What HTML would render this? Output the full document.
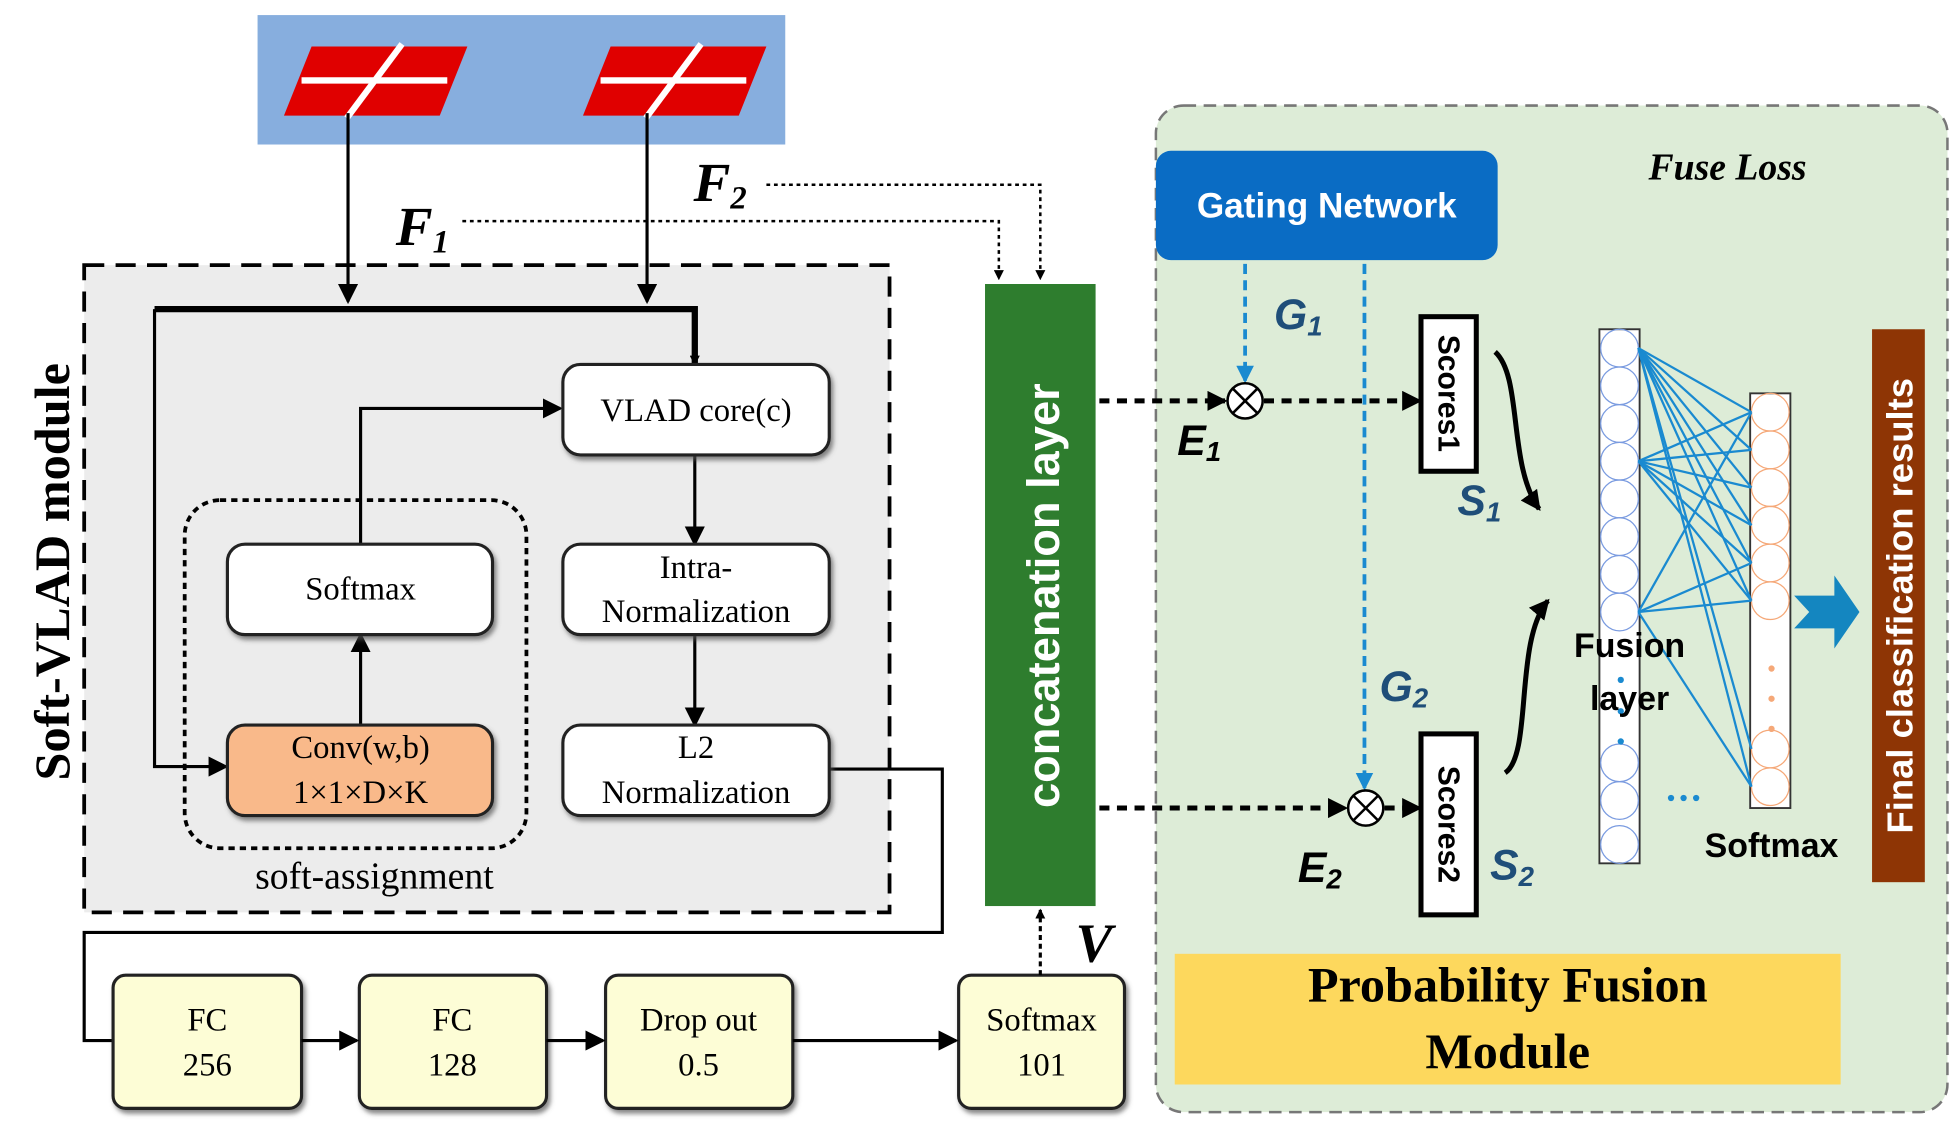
<!DOCTYPE html>
<html><head><meta charset="utf-8"><style>html,body{margin:0;padding:0;background:#fff}svg{display:block}</style></head>
<body>
<svg width="1960" height="1131" viewBox="0 0 1560 900" preserveAspectRatio="none" xmlns="http://www.w3.org/2000/svg">
<defs>
<marker id="ah" markerWidth="8" markerHeight="8" refX="7" refY="4" orient="auto" markerUnits="userSpaceOnUse" viewBox="0 0 8 8"><path d="M0,0 L8,4 L0,8 z" fill="#000"/></marker>
<marker id="ahb" markerWidth="16" markerHeight="16" refX="14" refY="8" orient="auto" markerUnits="userSpaceOnUse"><path d="M0,0 L16,8 L0,16 z" fill="#000"/></marker>
<marker id="ahl" markerWidth="14" markerHeight="14" refX="12" refY="7" orient="auto" markerUnits="userSpaceOnUse"><path d="M0,0 L14,7 L0,14 z" fill="#1a8ad0"/></marker>
<filter id="sh" x="-10%" y="-10%" width="130%" height="140%"><feDropShadow dx="2" dy="3" stdDeviation="2" flood-color="#555" flood-opacity="0.7"/></filter>
</defs>
<style>
.sr{font-family:"Liberation Serif",serif}
.ss{font-family:"Liberation Sans",sans-serif}
</style>
<!-- top image -->
<rect x="205" y="12" width="420" height="103" fill="#87aede"/>
<g>
<polygon points="248,37 372,37 350,92 226,92" fill="#e00000"/>
<line x1="240" y1="64" x2="356" y2="64" stroke="#fff" stroke-width="5"/>
<line x1="320" y1="35" x2="276" y2="94" stroke="#fff" stroke-width="5"/>
<polygon points="486,37 610,37 588,92 464,92" fill="#e00000"/>
<line x1="478" y1="64" x2="594" y2="64" stroke="#fff" stroke-width="5"/>
<line x1="558" y1="35" x2="514" y2="94" stroke="#fff" stroke-width="5"/>
</g>
<!-- soft vlad box -->
<rect x="67" y="211" width="641" height="515" fill="#ececec" stroke="#000" stroke-width="3" stroke-dasharray="16,9"/>
<line x1="277" y1="90" x2="277" y2="240" stroke="#000" stroke-width="2.5" marker-end="url(#ahb)"/>
<line x1="515" y1="90" x2="515" y2="240" stroke="#000" stroke-width="2.5" marker-end="url(#ahb)"/>
<text x="315" y="195" class="sr" font-size="44" font-weight="bold" font-style="italic">F<tspan font-size="26" dy="6">1</tspan></text>
<text x="552" y="160" class="sr" font-size="44" font-weight="bold" font-style="italic">F<tspan font-size="26" dy="6">2</tspan></text>
<polyline points="368,176 795,176 795,222" fill="none" stroke="#000" stroke-width="2" stroke-dasharray="3,3" marker-end="url(#ah)"/>
<polyline points="610,147 828,147 828,222" fill="none" stroke="#000" stroke-width="2" stroke-dasharray="3,3" marker-end="url(#ah)"/>
<text transform="translate(55,455) rotate(-90)" text-anchor="middle" class="sr" font-size="40" font-weight="bold">Soft-VLAD module</text>
<rect x="147" y="398" width="272" height="277" rx="28" fill="none" stroke="#000" stroke-width="3" stroke-dasharray="5,4"/>
<text x="298" y="707" text-anchor="middle" class="sr" font-size="30">soft-assignment</text>
<polyline points="123,246 553,246 553,290" fill="none" stroke="#000" stroke-width="5" marker-end="url(#ah)"/>
<polyline points="123,246 123,610 180,610" fill="none" stroke="#000" stroke-width="2.5" marker-end="url(#ahb)"/>
<polyline points="287,433 287,325 446,325" fill="none" stroke="#000" stroke-width="2.5" marker-end="url(#ahb)"/>
<line x1="287" y1="577" x2="287" y2="505" stroke="#000" stroke-width="2.5" marker-end="url(#ahb)"/>
<line x1="553" y1="362" x2="553" y2="433" stroke="#000" stroke-width="2.5" marker-end="url(#ahb)"/>
<line x1="553" y1="505" x2="553" y2="577" stroke="#000" stroke-width="2.5" marker-end="url(#ahb)"/>
<polyline points="660,612 750,612 750,742 67,742 67,828 90,828" fill="none" stroke="#000" stroke-width="2.5"/>
<g filter="url(#sh)" stroke="#222" stroke-width="2.5">
<rect x="448" y="290" width="212" height="72" rx="14" fill="#fff"/>
<rect x="181" y="433" width="211" height="72" rx="14" fill="#fff"/>
<rect x="448" y="433" width="212" height="72" rx="14" fill="#fff"/>
<rect x="181" y="577" width="211" height="72" rx="14" fill="#f9b98a"/>
<rect x="448" y="577" width="212" height="72" rx="14" fill="#fff"/>
<rect x="90" y="776" width="150" height="106" rx="10" fill="#fdfdd6"/>
<rect x="286" y="776" width="149" height="106" rx="10" fill="#fdfdd6"/>
<rect x="482" y="776" width="149" height="106" rx="10" fill="#fdfdd6"/>
<rect x="763" y="776" width="132" height="106" rx="10" fill="#fdfdd6"/>
</g>
<g class="sr" font-size="26" text-anchor="middle">
<text x="554" y="335">VLAD core(c)</text>
<text x="287" y="477">Softmax</text>
<text x="554" y="460">Intra-</text>
<text x="554" y="495">Normalization</text>
<text x="287" y="603">Conv(w,b)</text>
<text x="287" y="639">1×1×D×K</text>
<text x="554" y="603">L2</text>
<text x="554" y="639">Normalization</text>
<text x="165" y="820">FC</text><text x="165" y="856">256</text>
<text x="360" y="820">FC</text><text x="360" y="856">128</text>
<text x="556" y="820">Drop out</text><text x="556" y="856">0.5</text>
<text x="829" y="820">Softmax</text><text x="829" y="856">101</text>
</g>
<line x1="240" y1="828" x2="284" y2="828" stroke="#000" stroke-width="2.5" marker-end="url(#ahb)"/>
<line x1="435" y1="828" x2="480" y2="828" stroke="#000" stroke-width="2.5" marker-end="url(#ahb)"/>
<line x1="631" y1="828" x2="761" y2="828" stroke="#000" stroke-width="2.5" marker-end="url(#ahb)"/>
<line x1="828" y1="776" x2="828" y2="724" stroke="#000" stroke-width="2.5" stroke-dasharray="4,3" marker-end="url(#ah)"/>
<text x="856" y="765" class="sr" font-size="44" font-weight="bold" font-style="italic">V</text>
<!-- concat -->
<rect x="784" y="226" width="88" height="495" fill="#2e7d2e"/>
<text transform="translate(843,474) rotate(-90)" text-anchor="middle" class="ss" font-size="36" font-weight="bold" fill="#fff">concatenation layer</text>
<!-- right panel -->
<rect x="920" y="84" width="630" height="801" rx="22" fill="#ddecd7" stroke="#777" stroke-width="2" stroke-dasharray="10,6"/>
<rect x="920" y="120" width="272" height="87" rx="12" fill="#0a6cc4"/>
<text x="1056" y="173" text-anchor="middle" class="ss" font-size="28" font-weight="bold" fill="#fff">Gating Network</text>
<text x="1375" y="143" text-anchor="middle" class="sr" font-size="30" font-weight="bold" font-style="italic">Fuse Loss</text>
<line x1="991" y1="210" x2="991" y2="303" stroke="#1a8ad0" stroke-width="3" stroke-dasharray="8,5" marker-end="url(#ahl)"/>
<line x1="1086" y1="210" x2="1086" y2="627" stroke="#1a8ad0" stroke-width="3" stroke-dasharray="8,5" marker-end="url(#ahl)"/>
<g class="ss" font-weight="bold" font-style="italic" font-size="34" fill="#1f4e79">
<text x="1014" y="262">G<tspan font-size="22" dy="5">1</tspan></text>
<text x="1098" y="558">G<tspan font-size="22" dy="5">2</tspan></text>
<text x="1160" y="410">S<tspan font-size="22" dy="5">1</tspan></text>
<text x="1186" y="700">S<tspan font-size="22" dy="5">2</tspan></text>
</g>
<g class="ss" font-weight="bold" font-style="italic" font-size="34" fill="#000">
<text x="937" y="362">E<tspan font-size="22" dy="5">1</tspan></text>
<text x="1033" y="702">E<tspan font-size="22" dy="5">2</tspan></text>
</g>
<g stroke="#000" stroke-width="4" stroke-dasharray="8,6" fill="none">
<line x1="875" y1="319" x2="975" y2="319" marker-end="url(#ahb)"/>
<line x1="1006" y1="319" x2="1130" y2="319" marker-end="url(#ahb)"/>
<line x1="875" y1="643" x2="1071" y2="643" marker-end="url(#ahb)"/>
<line x1="1102" y1="643" x2="1130" y2="643" marker-end="url(#ahb)"/>
</g>
<g stroke="#000" stroke-width="2" fill="#fff">
<circle cx="991" cy="319" r="14"/><path d="M981,309 L1001,329 M1001,309 L981,329"/>
<circle cx="1087" cy="643" r="14"/><path d="M1077,633 L1097,653 M1097,633 L1077,653"/>
</g>
<rect x="1131" y="252" width="44" height="123" fill="#fff" stroke="#000" stroke-width="4"/>
<rect x="1131" y="584" width="44" height="144" fill="#fff" stroke="#000" stroke-width="4"/>
<text transform="translate(1145,313) rotate(90)" text-anchor="middle" class="ss" font-size="24" font-weight="bold">Scores1</text>
<text transform="translate(1145,656) rotate(90)" text-anchor="middle" class="ss" font-size="24" font-weight="bold">Scores2</text>
<path d="M1190,280 C1212,300 1200,370 1225,405" fill="none" stroke="#000" stroke-width="4" marker-end="url(#ahb)"/>
<path d="M1198,615 C1220,600 1205,510 1232,478" fill="none" stroke="#000" stroke-width="4" marker-end="url(#ahb)"/>
<!-- fusion layer -->
<rect x="1273" y="262" width="32" height="425" fill="#fff" stroke="#333" stroke-width="1.5"/>
<g fill="none" stroke="#7a9be0" stroke-width="1">
<ellipse cx="1289" cy="277" rx="15" ry="15"/><ellipse cx="1289" cy="307" rx="15" ry="15"/><ellipse cx="1289" cy="337" rx="15" ry="15"/><ellipse cx="1289" cy="367" rx="15" ry="15"/><ellipse cx="1289" cy="397" rx="15" ry="15"/><ellipse cx="1289" cy="427" rx="15" ry="15"/><ellipse cx="1289" cy="457" rx="15" ry="15"/><ellipse cx="1289" cy="487" rx="15" ry="15"/>
<ellipse cx="1289" cy="607" rx="15" ry="15"/><ellipse cx="1289" cy="637" rx="15" ry="15"/><ellipse cx="1289" cy="672" rx="15" ry="15"/>
</g>
<g fill="#1a8ad0"><circle cx="1290" cy="541" r="2.5"/><circle cx="1290" cy="566" r="2.5"/><circle cx="1290" cy="590" r="2.5"/>
<circle cx="1330" cy="635" r="2.5"/><circle cx="1340" cy="635" r="2.5"/><circle cx="1350" cy="635" r="2.5"/></g>
<rect x="1393" y="313" width="32" height="330" fill="#fff" stroke="#333" stroke-width="1.5"/>
<g fill="none" stroke="#f5a878" stroke-width="1">
<ellipse cx="1409" cy="328" rx="15" ry="15"/><ellipse cx="1409" cy="358" rx="15" ry="15"/><ellipse cx="1409" cy="388" rx="15" ry="15"/><ellipse cx="1409" cy="418" rx="15" ry="15"/><ellipse cx="1409" cy="448" rx="15" ry="15"/><ellipse cx="1409" cy="478" rx="15" ry="15"/>
<ellipse cx="1409" cy="596" rx="15" ry="15"/><ellipse cx="1409" cy="626" rx="15" ry="15"/>
</g>
<g fill="#f5a878"><circle cx="1410" cy="532" r="2.5"/><circle cx="1410" cy="556" r="2.5"/><circle cx="1410" cy="580" r="2.5"/></g>
<g stroke="#1a8ad0" stroke-width="1.8">
<line x1="1304" y1="277" x2="1394" y2="328"/><line x1="1304" y1="277" x2="1394" y2="358"/><line x1="1304" y1="277" x2="1394" y2="388"/><line x1="1304" y1="277" x2="1394" y2="418"/><line x1="1304" y1="277" x2="1394" y2="448"/><line x1="1304" y1="277" x2="1394" y2="478"/><line x1="1304" y1="277" x2="1394" y2="596"/><line x1="1304" y1="277" x2="1394" y2="626"/>
<line x1="1304" y1="367" x2="1394" y2="328"/><line x1="1304" y1="367" x2="1394" y2="358"/><line x1="1304" y1="367" x2="1394" y2="388"/><line x1="1304" y1="367" x2="1394" y2="418"/><line x1="1304" y1="367" x2="1394" y2="448"/><line x1="1304" y1="367" x2="1394" y2="478"/>
<line x1="1304" y1="487" x2="1394" y2="328"/><line x1="1304" y1="487" x2="1394" y2="448"/><line x1="1304" y1="487" x2="1394" y2="478"/><line x1="1304" y1="487" x2="1394" y2="626"/>
</g>
<text x="1297" y="523" text-anchor="middle" class="ss" font-size="27" font-weight="bold">Fusion</text>
<text x="1297" y="565" text-anchor="middle" class="ss" font-size="27" font-weight="bold">layer</text>
<text x="1410" y="682" text-anchor="middle" class="ss" font-size="27" font-weight="bold">Softmax</text>
<polygon points="1428,474 1460,474 1460,458 1480,487 1460,516 1460,500 1428,500 1440,487" fill="#1486c0"/>
<rect x="1490" y="262" width="42" height="440" fill="#8e3505"/>
<text transform="translate(1522,482) rotate(-90)" text-anchor="middle" class="ss" font-size="29" font-weight="bold" fill="#fff">Final classification results</text>
<rect x="935" y="759" width="530" height="104" fill="#fdd85d"/>
<text x="1200" y="797" text-anchor="middle" class="sr" font-size="40" font-weight="bold">Probability Fusion</text>
<text x="1200" y="850" text-anchor="middle" class="sr" font-size="40" font-weight="bold">Module</text>
</svg>
</body></html>
